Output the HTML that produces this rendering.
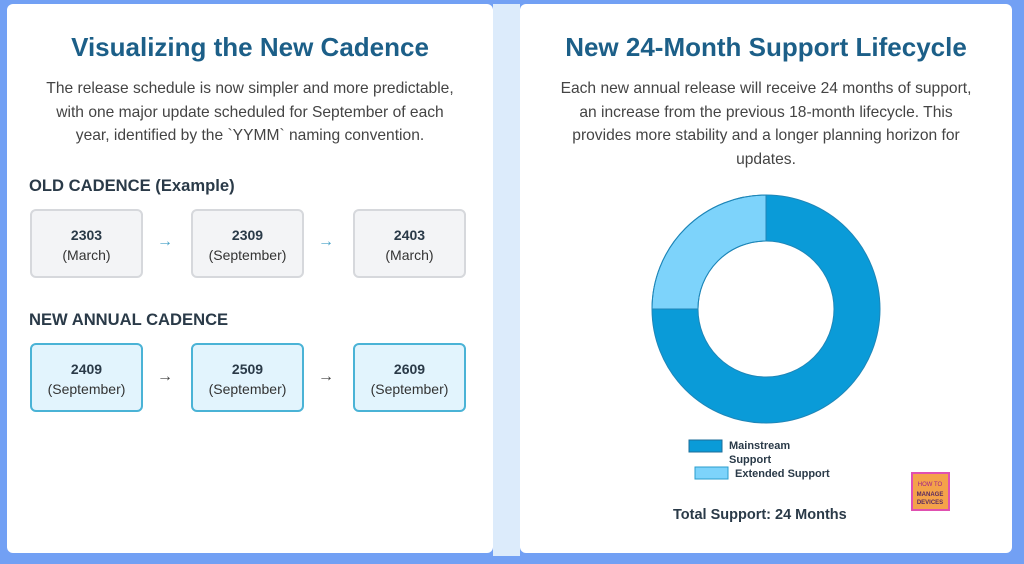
<!DOCTYPE html>
<html><head><meta charset="utf-8"><style>
*{margin:0;padding:0;box-sizing:border-box}
body{width:1024px;height:564px;background:#72a0f4;position:relative;overflow:hidden;font-family:"Liberation Sans",sans-serif}
.mid{position:absolute;left:493px;top:4px;width:27px;height:552px;background:#dcebfb}
.card{position:absolute;top:4px;height:549px;background:#fff;border-radius:6px}
h1{position:absolute;width:100%;text-align:center;font-size:26px;color:#1c5f88;font-weight:bold;top:28px}
.p{position:absolute;width:100%;text-align:center;font-size:15.6px;color:#444;line-height:23.5px}
.h3{position:absolute;left:22px;font-size:16.6px;font-weight:bold;color:#2a3a48}
.box{position:absolute;width:113px;height:69px;border-radius:6px;text-align:center;padding-top:14px;font-size:14px;line-height:20px}
.old{background:#f3f4f6;border:2px solid #d6d8dc;color:#333}
.new{background:#e2f4fd;border:2px solid #4ab3d6;color:#333}
.box b{color:#2a3a48}
.arr{position:absolute;font-size:16px;color:#4aa3c8}
.arr2{color:#444}
</style></head><body>
<div class="mid"></div>
<div class="card" style="left:7px;width:486px">
<h1>Visualizing the New Cadence</h1>
<div class="p" style="top:73px">The release schedule is now simpler and more predictable,<br>with one major update scheduled for September of each<br>year, identified by the `YYMM` naming convention.</div>
<div class="h3" style="top:172px">OLD CADENCE (Example)</div>
<div class="box old" style="left:23px;top:205px"><b>2303</b><br>(March)</div>
<div class="arr" style="left:150px;top:229px">→</div>
<div class="box old" style="left:184px;top:205px"><b>2309</b><br>(September)</div>
<div class="arr" style="left:311px;top:229px">→</div>
<div class="box old" style="left:346px;top:205px"><b>2403</b><br>(March)</div>
<div class="h3" style="top:306px">NEW ANNUAL CADENCE</div>
<div class="box new" style="left:23px;top:339px"><b>2409</b><br>(September)</div>
<div class="arr arr2" style="left:150px;top:364px">→</div>
<div class="box new" style="left:184px;top:339px"><b>2509</b><br>(September)</div>
<div class="arr arr2" style="left:311px;top:364px">→</div>
<div class="box new" style="left:346px;top:339px"><b>2609</b><br>(September)</div>
</div>
<div class="card" style="left:520px;width:492px">
<h1>New 24-Month Support Lifecycle</h1>
<div class="p" style="top:73px">Each new annual release will receive 24 months of support,<br>an increase from the previous 18-month lifecycle. This<br>provides more stability and a longer planning horizon for<br>updates.</div>
<svg style="position:absolute;left:0;top:0" width="492" height="549">
<circle cx="246" cy="305" r="91" fill="none" stroke="#0a9bd8" stroke-width="46"/>
<path d="M246 191 A114 114 0 0 0 132 305 L178 305 A68 68 0 0 1 246 237 Z" fill="#7dd3fb" stroke="#1e86b8" stroke-width="1"/>
<circle cx="246" cy="305" r="114" fill="none" stroke="#1e86b8" stroke-width="1"/>
<circle cx="246" cy="305" r="68" fill="none" stroke="#1e86b8" stroke-width="1"/>
<rect x="169" y="436" width="33" height="12" fill="#0a9bd8" stroke="#1e6e98"/>
<rect x="175" y="463" width="33" height="12" fill="#7dd3fb" stroke="#2a9ccc"/>
<text x="209" y="445" font-size="11" font-weight="bold" fill="#2a3a48" font-family="Liberation Sans">Mainstream</text>
<text x="209" y="459" font-size="11" font-weight="bold" fill="#2a3a48" font-family="Liberation Sans">Support</text>
<text x="215" y="473" font-size="11" font-weight="bold" fill="#2a3a48" font-family="Liberation Sans">Extended Support</text>
<rect x="392" y="469" width="37" height="37" fill="#f4a24a" stroke="#e050b0" stroke-width="2"/>
<text x="410" y="482" font-size="6" fill="#a0208a" text-anchor="middle" font-family="Liberation Sans">HOW TO</text>
<text x="410" y="492" font-size="6" fill="#5a2a60" text-anchor="middle" font-weight="bold" font-family="Liberation Sans">MANAGE</text>
<text x="410" y="500" font-size="6" fill="#5a2a60" text-anchor="middle" font-weight="bold" font-family="Liberation Sans">DEVICES</text>
<text x="153" y="515" font-size="14.5" font-weight="bold" fill="#2a3a48" font-family="Liberation Sans">Total Support: 24 Months</text>
</svg>
</div>
</body></html>
